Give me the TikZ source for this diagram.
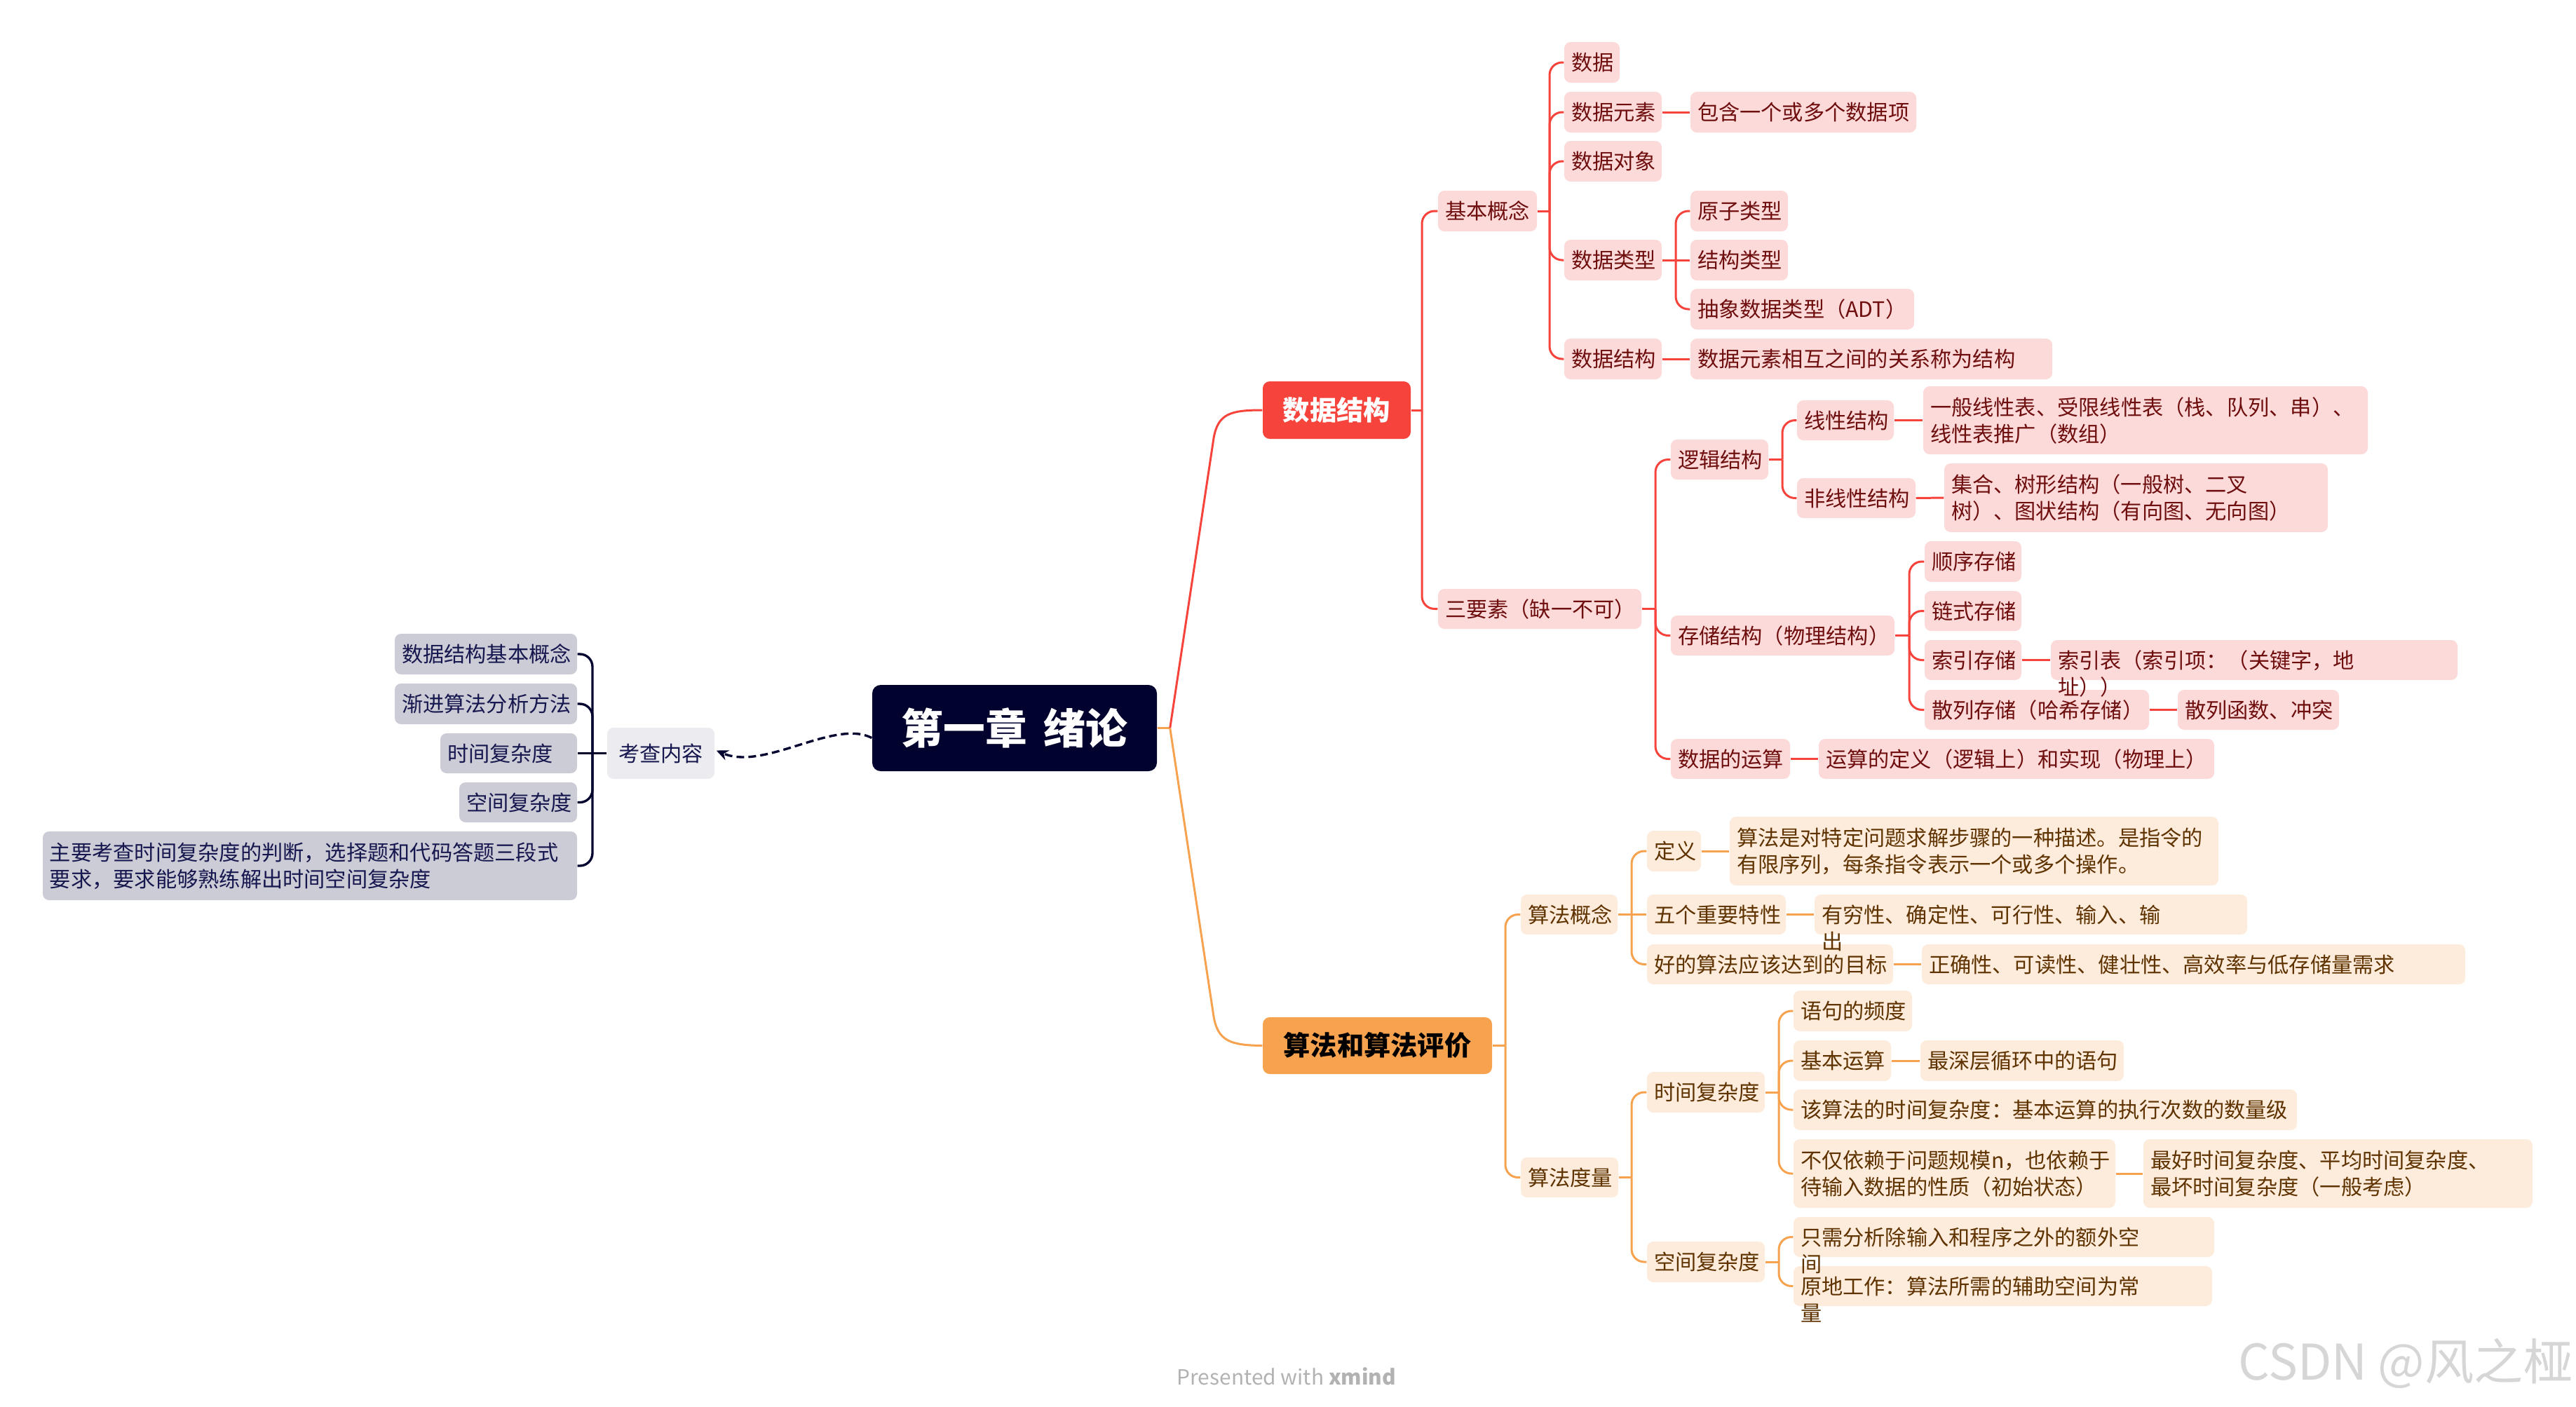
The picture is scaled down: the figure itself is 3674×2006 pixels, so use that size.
\documentclass[tikz,border=0pt]{standalone}
\usepackage{fontspec}
\setmainfont{Noto Sans CJK SC}
\usetikzlibrary{fit,arrows.meta}
\pgfdeclarelayer{fg}
\pgfsetlayers{main,fg}
\definecolor{rootc}{HTML}{02022E}
\definecolor{redc}{HTML}{F6433B}
\definecolor{orgc}{HTML}{F6A24F}
\definecolor{pkfill}{HTML}{FCDAD9}
\definecolor{pktext}{HTML}{6E0E0E}
\definecolor{orfill}{HTML}{FDEBDC}
\definecolor{ortext}{HTML}{5F3300}
\definecolor{gyfill}{HTML}{CBCCD6}
\definecolor{gytext}{HTML}{17174F}
\definecolor{kcfill}{HTML}{ECEBEF}
\newcommand\nodefont{\fontsize{8.6pt}{10.8pt}\selectfont}
\tikzset{
  boxbase/.style={inner sep=0pt, rounded corners=0.9mm},
  pkbox/.style={boxbase, fill=pkfill},
  orbox/.style={boxbase, fill=orfill},
  gybox/.style={boxbase, fill=gyfill},
  pkboxtxt/.style={inner sep=0pt, text=pktext, font=\nodefont},
  orboxtxt/.style={inner sep=0pt, text=ortext, font=\nodefont},
  gyboxtxt/.style={inner sep=0pt, text=gytext, font=\nodefont},
  redline/.style={draw=redc, line width=0.85pt},
  orgline/.style={draw=orgc, line width=0.85pt},
  navyline/.style={draw=rootc, line width=0.95pt},
}
% single-line box
\newcommand\bx[7]{%
  \node[#1, fit={(#3,#4) (#5,#6)}] (#2) {};
  \begin{pgfonlayer}{fg}
  \node[#1txt, anchor=base west] (#2t) at ([xshift=1mm,yshift=-1.15mm]#2.west) {#7};
  \end{pgfonlayer}
}
% two-line box
\newcommand\bxt[8]{%
  \node[#1, fit={(#3,#4) (#5,#6)}] (#2) {};
  \begin{pgfonlayer}{fg}
  \node[#1txt, anchor=base west] (#2t) at ([xshift=1mm,yshift=0.75mm]#2.west) {#7};
  \node[#1txt, anchor=base west] (#2u) at ([xshift=1mm,yshift=-3.05mm]#2.west) {#8};
  \end{pgfonlayer}
}
% overflowing text box
\newcommand\bxo[8]{%
  \node[#1, fit={(#3,#4) (#5,#6)}] (#2) {};
  \begin{pgfonlayer}{fg}
  \node[#1txt, anchor=base west] (#2t) at ([xshift=1mm,yshift=-1.15mm]#2.west) {#7};
  \node[#1txt, anchor=base west] (#2u) at ([xshift=1mm,yshift=-4.95mm]#2.west) {#8};
  \end{pgfonlayer}
}
% right-going bracket
\newcommand\brk[4]{%
  \path (#3,0) coordinate (#2x);
  \draw[#1] (#2.east) -- (#2.east -| #2x) coordinate (#2j);
  \foreach \ch in {#4} {\draw[#1, rounded corners=1.8mm] (#2j) |- (\ch.west);}
}
% left-going bracket
\newcommand\lbrk[4]{%
  \path (#3,0) coordinate (#2x);
  \draw[#1] (#2.west) -- (#2.west -| #2x) coordinate (#2j);
  \foreach \ch in {#4} {\draw[#1, rounded corners=1.8mm] (#2j) |- (\ch.east);}
}
\newcommand\lnk[3]{\draw[#1] (#2.east) -- (#3.west);}
\begin{document}
\begin{tikzpicture}[x=0.1mm,y=-0.1mm]
\useasboundingbox (0,0) rectangle (3674,2006);

% root
\node[fill=rootc, rounded corners=1.2mm, inner sep=0pt, fit={(1244,977) (1650,1100)}] (root) {};
\node[text=white, font=\fontsize{17pt}{20pt}\selectfont\bfseries, anchor=base, inner sep=0pt] (roott) at ([yshift=-6.4pt]root.center) {第一章\hspace{0.4em}绪论};

% main branches
\node[fill=redc, rounded corners=1mm, inner sep=0pt, fit={(1801,544) (2012,626)}] (ds) {};
\node[text=white, font=\fontsize{10.9pt}{13pt}\selectfont\bfseries, anchor=base, inner sep=0pt] (dst) at ([yshift=-4.1pt]ds.center) {数据结构};
\node[fill=orgc, rounded corners=1mm, inner sep=0pt, fit={(1801,1451) (2128,1532)}] (alg) {};
\node[text=black, font=\fontsize{10.9pt}{13pt}\selectfont\bfseries, anchor=base, inner sep=0pt] (algt) at ([yshift=-4.1pt]alg.center) {算法和算法评价};

% red subtree
\bx{pkbox}{kc}{2051}{272}{2192}{330}{基本概念}
\bx{pkbox}{sj}{2231}{60}{2310}{118}{数据}
\bx{pkbox}{sjys}{2231}{131}{2370}{189}{数据元素}
\bx{pkbox}{bh}{2411}{131}{2733}{189}{包含一个或多个数据项}
\bx{pkbox}{sjdx}{2231}{201}{2370}{259}{数据对象}
\bx{pkbox}{sjlx}{2231}{342}{2370}{400}{数据类型}
\bx{pkbox}{yz}{2411}{272}{2550}{330}{原子类型}
\bx{pkbox}{jglx}{2411}{342}{2550}{400}{结构类型}
\bx{pkbox}{adt}{2411}{412}{2730}{470}{抽象数据类型（ADT）}
\bx{pkbox}{sjjg}{2231}{483}{2370}{541}{数据结构}
\bx{pkbox}{gx}{2411}{483}{2927}{541}{数据元素相互之间的关系称为结构}
\bx{pkbox}{szy}{2051}{840}{2341}{897}{三要素（缺一不可）}
\bx{pkbox}{ljjg}{2383}{627}{2522}{684}{逻辑结构}
\bx{pkbox}{xx}{2563}{571}{2701}{628}{线性结构}
\bxt{pkbox}{xxd}{2743}{551}{3377}{648}{一般线性表、受限线性表（栈、队列、串）、}{线性表推广（数组）}
\bx{pkbox}{fxx}{2563}{682}{2732}{739}{非线性结构}
\bxt{pkbox}{fxxd}{2773}{661}{3320}{759}{集合、树形结构（一般树、二叉}{树）、图状结构（有向图、无向图）}
\bx{pkbox}{ccjg}{2383}{878}{2702}{935}{存储结构（物理结构）}
\bx{pkbox}{sx}{2745}{772}{2883}{830}{顺序存储}
\bx{pkbox}{ls}{2745}{843}{2883}{900}{链式存储}
\bx{pkbox}{sy}{2745}{913}{2883}{970}{索引存储}
\bxo{pkbox}{syb}{2925}{913}{3505}{970}{索引表（索引项：（关键字，地}{址））}
\bx{pkbox}{sl}{2745}{984}{3065}{1041}{散列存储（哈希存储）}
\bx{pkbox}{slhs}{3106}{984}{3336}{1041}{散列函数、冲突}
\bx{pkbox}{ys}{2383}{1054}{2553}{1111}{数据的运算}
\bx{pkbox}{ysdy}{2594}{1054}{3158}{1111}{运算的定义（逻辑上）和实现（物理上）}

% orange subtree
\bx{orbox}{gn}{2169}{1276}{2307}{1333}{算法概念}
\bx{orbox}{dy}{2349}{1185}{2426}{1243}{定义}
\bxt{orbox}{dyd}{2467}{1165}{3164}{1263}{算法是对特定问题求解步骤的一种描述。是指令的}{有限序列，每条指令表示一个或多个操作。}
\bx{orbox}{tx}{2349}{1276}{2547}{1333}{五个重要特性}
\bxo{orbox}{txd}{2588}{1276}{3205}{1333}{有穷性、确定性、可行性、输入、输}{出}
\bx{orbox}{mb}{2349}{1347}{2700}{1404}{好的算法应该达到的目标}
\bx{orbox}{mbd}{2741}{1347}{3516}{1404}{正确性、可读性、健壮性、高效率与低存储量需求}
\bx{orbox}{dl}{2169}{1651}{2308}{1708}{算法度量}
\bx{orbox}{sjfz}{2349}{1529}{2517}{1587}{时间复杂度}
\bx{orbox}{pd}{2558}{1413}{2727}{1471}{语句的频度}
\bx{orbox}{jbys}{2558}{1484}{2697}{1542}{基本运算}
\bx{orbox}{zsc}{2739}{1484}{3029}{1542}{最深层循环中的语句}
\bx{orbox}{gsf}{2558}{1554}{3276}{1612}{该算法的时间复杂度：基本运算的执行次数的数量级}
\bxt{orbox}{byl}{2558}{1625}{3017}{1723}{不仅依赖于问题规模n，也依赖于}{待输入数据的性质（初始状态）}
\bxt{orbox}{zh}{3057}{1625}{3612}{1723}{最好时间复杂度、平均时间复杂度、}{最坏时间复杂度（一般考虑）}
\bx{orbox}{kjfz}{2349}{1771}{2517}{1829}{空间复杂度}
\bxo{orbox}{ewkj}{2558}{1736}{3158}{1793}{只需分析除输入和程序之外的额外空}{间}
\bxo{orbox}{ydgz}{2558}{1806}{3155}{1863}{原地工作：算法所需的辅助空间为常}{量}

% left subtree
\node[fill=kcfill, rounded corners=0.9mm, inner sep=0pt, fit={(866,1038) (1019,1111)}] (kc0) {};
\node[text=gytext, font=\nodefont, anchor=base, inner sep=0pt] (kc0t) at ([yshift=-1.15mm]kc0.center) {考查内容};
\bx{gybox}{la}{563}{904}{823}{962}{数据结构基本概念}
\bx{gybox}{lb}{563}{975}{823}{1033}{渐进算法分析方法}
\bx{gybox}{lc}{628}{1046}{823}{1103}{时间复杂度}
\bx{gybox}{ld}{655}{1116}{823}{1173}{空间复杂度}
\bxt{gybox}{le}{61}{1186}{823}{1284}{主要考查时间复杂度的判断，选择题和代码答题三段式}{要求，要求能够熟练解出时间空间复杂度}

% connectors from root
\draw[orgline] (root.east) -- ++(1.8mm,0) coordinate (rootj);
\draw[redline] (rootj) -- (1731,625) .. controls (1737,590) and (1755,585) .. (ds.west);
\draw[orgline] (rootj) -- (1731,1450) .. controls (1737,1485) and (1755,1491) .. (alg.west);

% red connectors
\brk{redline}{ds}{2028}{kc,szy}
\brk{redline}{kc}{2210}{sj,sjys,sjdx,sjlx,sjjg}
\lnk{redline}{sjys}{bh}
\brk{redline}{sjlx}{2390}{yz,adt}
\lnk{redline}{sjlx}{jglx}
\lnk{redline}{sjjg}{gx}
\brk{redline}{szy}{2361}{ljjg,ccjg,ys}
\brk{redline}{ljjg}{2542}{xx,fxx}
\lnk{redline}{xx}{xxd}
\lnk{redline}{fxx}{fxxd}
\brk{redline}{ccjg}{2723}{sx,ls,sy,sl}
\lnk{redline}{sy}{syb}
\lnk{redline}{sl}{slhs}
\lnk{redline}{ys}{ysdy}

% orange connectors
\brk{orgline}{alg}{2147}{gn,dl}
\brk{orgline}{gn}{2327}{dy,mb}
\lnk{orgline}{gn}{tx}
\lnk{orgline}{dy}{dyd}
\lnk{orgline}{tx}{txd}
\lnk{orgline}{mb}{mbd}
\brk{orgline}{dl}{2327}{sjfz,kjfz}
\brk{orgline}{sjfz}{2537}{pd,jbys,gsf,byl}
\lnk{orgline}{jbys}{zsc}
\lnk{orgline}{byl}{zh}
\brk{orgline}{kjfz}{2537}{ewkj,ydgz}

% left connectors
\lbrk{navyline}{kc0}{845}{la,lb,ld,le}
\draw[navyline] (kc0.west) -- (lc.east);
\draw[navyline, dash pattern=on 1.1mm off 0.6mm, -{Stealth[length=1.7mm,width=1.5mm]}]
  ([yshift=-1.4mm]root.west) .. controls (1190,1025) and (1090,1100) .. ([xshift=0.2mm,yshift=0.4mm]kc0.east);

% footer and watermark
\node[text=black!30, font=\fontsize{8.5pt}{10pt}\selectfont, inner sep=0pt] (footer) at (1835,1963) {Presented with \textbf{xmind}};
\node[text=black!16, font=\fontsize{20pt}{23pt}\selectfont, anchor=east, inner sep=0pt] (wm) at (3670,1945) {CSDN @风之桠};
\end{tikzpicture}
\end{document}
